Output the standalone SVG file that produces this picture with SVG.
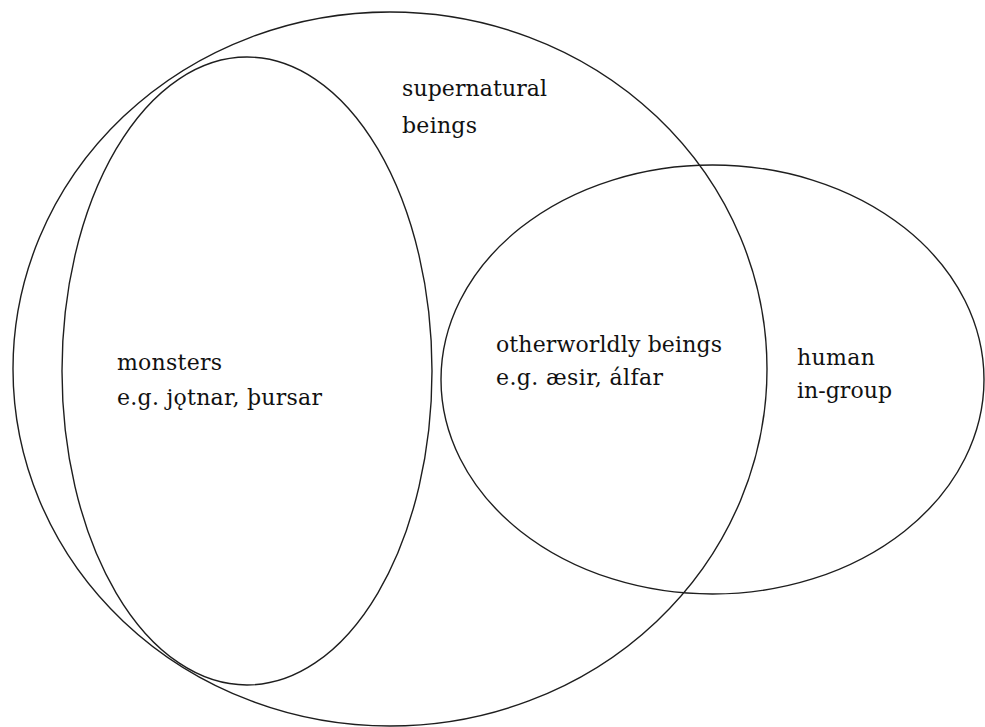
<svg xmlns="http://www.w3.org/2000/svg" width="985" height="727" viewBox="0 0 985 727">
<style>
.set{fill:none;stroke:#1e1e1e;stroke-width:1.4}
.lbl{font-family:"DejaVu Serif","Liberation Serif",serif;font-size:22px;fill:#111}
</style>
<rect x="0" y="0" width="985" height="727" fill="#ffffff"/>
<g id="supernatural">
<ellipse class="set" cx="390" cy="369" rx="377" ry="357"/>
<text class="lbl" x="402" y="96" textLength="145">supernatural</text>
<text class="lbl" x="402" y="133" textLength="75">beings</text>
</g>
<g id="monsters">
<ellipse class="set" cx="247" cy="371" rx="185" ry="314"/>
<text class="lbl" x="117" y="370" textLength="105">monsters</text>
<text class="lbl" x="117" y="405" textLength="205">e.g. jǫtnar, þursar</text>
</g>
<g id="human-in-group">
<ellipse class="set" cx="712.5" cy="379.5" rx="271.5" ry="214.5"/>
<text class="lbl" x="797" y="365" textLength="78">human</text>
<text class="lbl" x="797" y="398" textLength="95">in-group</text>
</g>
<g id="otherworldly">
<text class="lbl" x="496" y="352" textLength="226">otherworldly beings</text>
<text class="lbl" x="496" y="385" textLength="167">e.g. æsir, álfar</text>
</g>
</svg>
